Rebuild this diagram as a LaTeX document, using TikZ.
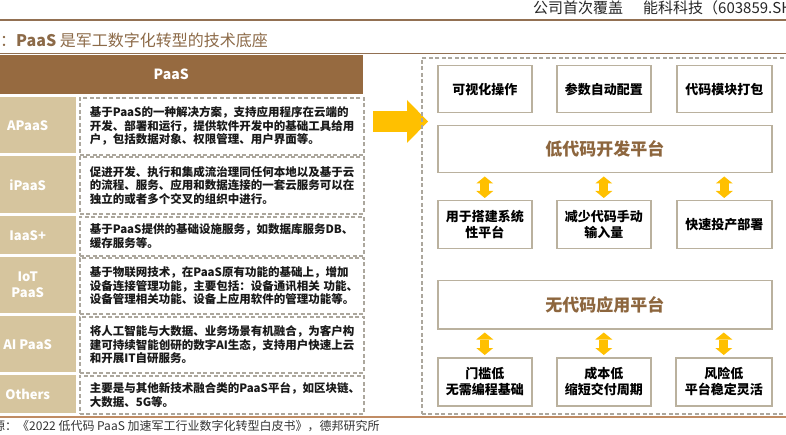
\documentclass[tikz,border=0pt]{standalone}
\usepackage{fontspec}
\setmainfont{Noto Sans CJK SC}
\usetikzlibrary{arrows.meta}

\definecolor{paasbrown}{RGB}{150,106,64}
\definecolor{paastan}{RGB}{214,197,158}
\definecolor{dashgray}{RGB}{172,167,157}
\definecolor{boxgray}{RGB}{186,177,158}
\definecolor{platbrown}{RGB}{141,102,62}
\definecolor{titlebrown}{RGB}{140,106,72}
\definecolor{rulebrown}{RGB}{146,112,82}
\definecolor{footrule}{RGB}{192,140,100}
\definecolor{ylw}{RGB}{255,192,0}

\begin{document}
\begin{tikzpicture}[
  x=1pt, y=-1pt,
  font=\fontsize{11.5}{13.5}\selectfont\bfseries,
  hdr/.style={fill=paasbrown, text=white, minimum width=384pt, minimum height=39pt, inner sep=0pt, anchor=north west, font=\fontsize{14}{16}\selectfont\bfseries},
  cat/.style={fill=paastan, text=white, minimum width=97pt, inner sep=0pt, anchor=north west, align=center, font=\fontsize{13}{16}\selectfont\bfseries},
  slot/.style={draw=dashgray, line width=1.6pt, dash pattern=on 4pt off 2.5pt},
  desc/.style={slot, text width=264pt, inner xsep=10pt, inner ysep=0pt, anchor=north west, align=left, text=black!90},
  feat/.style={draw=boxgray, line width=1.5pt, fill=white, minimum width=94pt, minimum height=47pt, inner sep=0pt, anchor=north west, align=center, font=\fontsize{13}{16}\selectfont\bfseries},
  plat/.style={feat, minimum width=334pt, text=platbrown, font=\fontsize{17}{20}\selectfont\bfseries},
  dbl/.style={draw=ylw, line width=9pt, >={Triangle[width=17pt,length=7pt,line width=0pt]}, <->, shorten <=3pt, shorten >=2pt},
  bigarr/.style={draw=ylw, line width=21pt, -{Triangle[width=43pt,length=21pt,line width=0pt]}},
]
\path[use as bounding box] (0,0) rectangle (786,435);
\clip (0,0) rectangle (786,435);

% --- page header and title ---
\node[anchor=west, inner sep=0pt, font=\fontsize{15}{17}\selectfont\mdseries, text=black!85] (corp) at (533,7.5)
  {公司首次覆盖\hspace{20pt}能科科技（603859.SH）};
\draw[rulebrown, line width=2pt] (0,20) -- (786,20);
\node[anchor=west, inner sep=0pt, text=titlebrown, font=\fontsize{16}{18}\selectfont\mdseries] (ttl) at (0,40)
  {：\textbf{PaaS} 是军工数字化转型的技术底座};
\draw[rulebrown, line width=1pt] (0,53.5) -- (786,53.5);

% --- left table: PaaS kinds ---
\node[hdr] (paas) at (-21,55) {PaaS};

\node[cat, minimum height=56pt] (apaas) at (-21,97)  {APaaS};
\node[cat, minimum height=57pt] (ipaas) at (-21,156) {iPaaS};
\node[cat, minimum height=38pt] (iaas)  at (-21,216) {IaaS+};
\node[cat, minimum height=56pt] (iot)   at (-21,257) {IoT\\PaaS};
\node[cat, minimum height=56pt] (aip)   at (-21,316) {AI PaaS};
\node[cat, minimum height=38pt] (oth)   at (-21,375) {Others};

\node[desc, minimum height=57pt] (apaasd) at (79,97)
  {基于PaaS的一种解决方案，支持应用程序在云端的\\开发、部署和运行，提供软件开发中的基础工具给用\\户，包括数据对象、权限管理、用户界面等。};
\node[desc, minimum height=57pt] (ipaasd) at (79,156)
  {促进开发、执行和集成流治理同任何本地以及基于云\\的流程、服务、应用和数据连接的一套云服务可以在\\独立的或者多个交叉的组织中进行。};
\node[desc, minimum height=39pt] (iaasd) at (79,216)
  {基于PaaS提供的基础设施服务，如数据库服务DB、\\缓存服务等。};
\node[desc, minimum height=56pt] (iotd) at (79,257)
  {基于物联网技术，在PaaS原有功能的基础上，增加\\设备连接管理功能，主要包括：设备通讯相关~功能、\\设备管理相关功能、设备上应用软件的管理功能等。};
\node[desc, minimum height=56pt] (aipd) at (79,316)
  {将人工智能与大数据、业务场景有机融合，为客户构\\建可持续智能创研的数字AI生态，支持用户快速上云\\和开展IT自研服务。};
\node[desc, minimum height=38pt] (othd) at (79,375)
  {主要是与其他新技术融合类的PaaS平台，如区块链、\\大数据、5G等。};

% --- big arrow into the platform frame ---
\coordinate (arrtail) at (373,121.5);
\coordinate (arrtip)  at (428,121.5);
\draw[bigarr] (arrtail) -- (arrtip);

\node[slot, minimum width=380pt, minimum height=356pt, inner sep=0pt, anchor=north west] (rbox) at (421,57) {};

% --- low-code platform ---
\node[feat] (vis)  at (437,65) {可视化操作};
\node[feat] (par)  at (556,65) {参数自动配置};
\node[feat, minimum width=95pt] (pkg) at (676,65) {代码模块打包};
\node[plat] (low)  at (437,125) {低代码开发平台};

\node[feat, minimum height=48pt] (sys) at (437,200) {用于搭建系统\\性平台};
\node[feat, minimum height=48pt] (inp) at (556,200) {减少代码手动\\输入量};
\node[feat, minimum height=48pt, minimum width=95pt] (dep) at (676,200) {快速投产部署};

\foreach \b in {sys, inp, dep}
  \draw[dbl] (low.south -| \b.north) -- (\b.north);

% --- no-code platform ---
\node[plat, minimum height=48pt] (nocd) at (437,280) {无代码应用平台};

\node[feat, minimum height=48pt] (thr)  at (437,357) {门槛低\\无需编程基础};
\node[feat, minimum height=48pt] (cost) at (556,357) {成本低\\缩短交付周期};
\node[feat, minimum height=48pt, minimum width=96pt] (risk) at (675,357) {风险低\\平台稳定灵活};

\foreach \b in {thr, cost, risk}
  \draw[dbl] (nocd.south -| \b.north) -- (\b.north);

% --- footer ---
\draw[footrule, line width=1.2pt] (0,417) -- (786,417);
\node[anchor=west, inner sep=0pt, font=\fontsize{12}{14}\selectfont\mdseries, text=black!80] (src) at (-7,426.5)
  {源：《2022 低代码 PaaS 加速军工行业数字化转型白皮书》，德邦研究所};

\end{tikzpicture}
\end{document}
